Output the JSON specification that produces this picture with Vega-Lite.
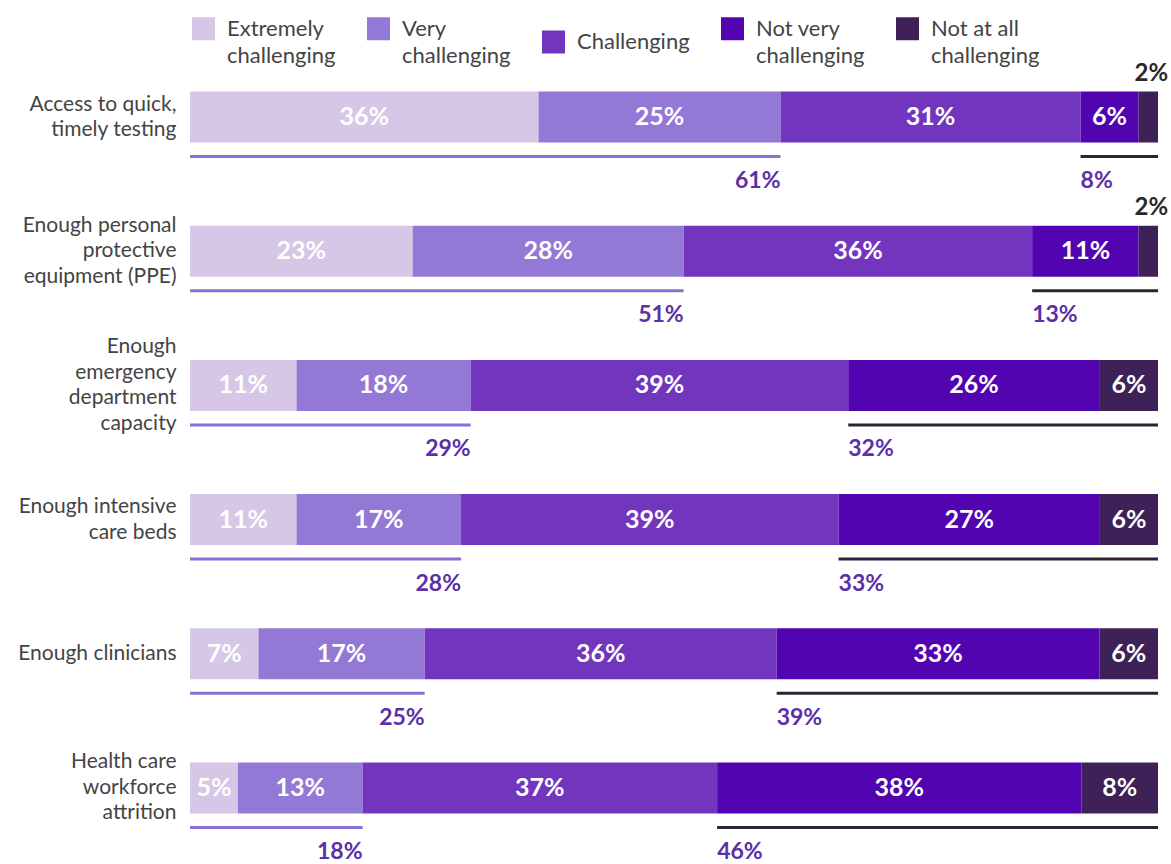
{
  "$schema": "https://vega.github.io/schema/vega-lite/v6.json",
  "width": 968,
  "height": 805,
  "autosize": {"type": "none"},
  "padding": {"left": 190, "top": 50, "right": 13, "bottom": 9},
  "background": "white",
  "config": {
    "view": {"stroke": null},
    "font": "Lato",
    "text": {"font": "Lato"},
    "style": {"guide-label": {"lineHeight": 27}}
  },
  "datasets": {
    "seg": [
      {"c": "Access to quick,\ntimely testing", "s": "Extremely challenging", "r": 1, "v": 0.36, "g": "low", "t": 0.61},
      {"c": "Access to quick,\ntimely testing", "s": "Very challenging", "r": 2, "v": 0.25, "g": "low", "t": 0.61},
      {"c": "Access to quick,\ntimely testing", "s": "Challenging", "r": 3, "v": 0.31, "g": "mid", "t": null},
      {"c": "Access to quick,\ntimely testing", "s": "Not very challenging", "r": 4, "v": 0.06, "g": "high", "t": 0.08},
      {"c": "Access to quick,\ntimely testing", "s": "Not at all challenging", "r": 5, "v": 0.02, "g": "high", "t": 0.08},
      {"c": "Enough personal\nprotective\nequipment (PPE)", "s": "Extremely challenging", "r": 1, "v": 0.23, "g": "low", "t": 0.51},
      {"c": "Enough personal\nprotective\nequipment (PPE)", "s": "Very challenging", "r": 2, "v": 0.28, "g": "low", "t": 0.51},
      {"c": "Enough personal\nprotective\nequipment (PPE)", "s": "Challenging", "r": 3, "v": 0.36, "g": "mid", "t": null},
      {"c": "Enough personal\nprotective\nequipment (PPE)", "s": "Not very challenging", "r": 4, "v": 0.11, "g": "high", "t": 0.13},
      {"c": "Enough personal\nprotective\nequipment (PPE)", "s": "Not at all challenging", "r": 5, "v": 0.02, "g": "high", "t": 0.13},
      {"c": "Enough\nemergency\ndepartment\ncapacity", "s": "Extremely challenging", "r": 1, "v": 0.11, "g": "low", "t": 0.29},
      {"c": "Enough\nemergency\ndepartment\ncapacity", "s": "Very challenging", "r": 2, "v": 0.18, "g": "low", "t": 0.29},
      {"c": "Enough\nemergency\ndepartment\ncapacity", "s": "Challenging", "r": 3, "v": 0.39, "g": "mid", "t": null},
      {"c": "Enough\nemergency\ndepartment\ncapacity", "s": "Not very challenging", "r": 4, "v": 0.26, "g": "high", "t": 0.32},
      {"c": "Enough\nemergency\ndepartment\ncapacity", "s": "Not at all challenging", "r": 5, "v": 0.06, "g": "high", "t": 0.32},
      {"c": "Enough intensive\ncare beds", "s": "Extremely challenging", "r": 1, "v": 0.11, "g": "low", "t": 0.28},
      {"c": "Enough intensive\ncare beds", "s": "Very challenging", "r": 2, "v": 0.17, "g": "low", "t": 0.28},
      {"c": "Enough intensive\ncare beds", "s": "Challenging", "r": 3, "v": 0.39, "g": "mid", "t": null},
      {"c": "Enough intensive\ncare beds", "s": "Not very challenging", "r": 4, "v": 0.27, "g": "high", "t": 0.33},
      {"c": "Enough intensive\ncare beds", "s": "Not at all challenging", "r": 5, "v": 0.06, "g": "high", "t": 0.33},
      {"c": "Enough clinicians", "s": "Extremely challenging", "r": 1, "v": 0.07, "g": "low", "t": 0.25},
      {"c": "Enough clinicians", "s": "Very challenging", "r": 2, "v": 0.17, "g": "low", "t": 0.25},
      {"c": "Enough clinicians", "s": "Challenging", "r": 3, "v": 0.36, "g": "mid", "t": null},
      {"c": "Enough clinicians", "s": "Not very challenging", "r": 4, "v": 0.33, "g": "high", "t": 0.39},
      {"c": "Enough clinicians", "s": "Not at all challenging", "r": 5, "v": 0.06, "g": "high", "t": 0.39},
      {"c": "Health care\nworkforce\nattrition", "s": "Extremely challenging", "r": 1, "v": 0.05, "g": "low", "t": 0.18},
      {"c": "Health care\nworkforce\nattrition", "s": "Very challenging", "r": 2, "v": 0.13, "g": "low", "t": 0.18},
      {"c": "Health care\nworkforce\nattrition", "s": "Challenging", "r": 3, "v": 0.37, "g": "mid", "t": null},
      {"c": "Health care\nworkforce\nattrition", "s": "Not very challenging", "r": 4, "v": 0.38, "g": "high", "t": 0.46},
      {"c": "Health care\nworkforce\nattrition", "s": "Not at all challenging", "r": 5, "v": 0.08, "g": "high", "t": 0.46}
    ]
  },
  "data": {"name": "seg"},
  "encoding": {
    "y": {
      "field": "c",
      "type": "nominal",
      "title": null,
      "sort": [
        "Access to quick,\ntimely testing",
        "Enough personal\nprotective\nequipment (PPE)",
        "Enough\nemergency\ndepartment\ncapacity",
        "Enough intensive\ncare beds",
        "Enough clinicians",
        "Health care\nworkforce\nattrition"
      ],
      "scale": {"paddingInner": 0, "paddingOuter": 0},
      "axis": {
        "domain": false,
        "ticks": false,
        "labelPadding": 14,
        "labelFont": "Lato",
        "labelFontSize": 21,
        "labelColor": "#444444",
        "labelLineHeight": 25.5,
        "labelLimit": 300,
        "labelOffset": {
          "condition": [
            {"test": "length(split(datum.value, '\\n')) == 4", "value": -38},
            {"test": "length(split(datum.value, '\\n')) == 3", "value": -25.5},
            {"test": "length(split(datum.value, '\\n')) == 2", "value": -12.5}
          ],
          "value": 0
        },
        "labelExpr": "split(datum.label, '\\n')"
      }
    }
  },
  "layer": [
    {
      "mark": {"type": "bar", "height": {"band": 0.38}},
      "encoding": {
        "x": {"field": "v", "type": "quantitative", "stack": "normalize", "scale": {"domain": [0, 1], "nice": false}, "axis": null},
        "color": {
          "field": "s",
          "type": "nominal",
          "scale": {
            "domain": ["Extremely challenging", "Very challenging", "Challenging", "Not very challenging", "Not at all challenging"],
            "range": ["#d6c7e6", "#9379d5", "#7236be", "#5104b0", "#3e2156"]
          },
          "legend": {
            "orient": "none",
            "legendX": 2,
            "legendY": -33,
            "direction": "horizontal",
            "columns": 5,
            "title": null,
            "padding": 0,
            "symbolType": "square",
            "symbolSize": 529,
            "symbolStrokeWidth": 0,
            "labelFont": "Lato",
            "labelFontSize": 22,
            "labelColor": "#444444",
            "labelOffset": 12,
            "labelLimit": 300,
            "columnPadding": 31,
            "labelExpr": "split(replace(datum.label, ' challenging', '\\nchallenging'), '\\n')"
          }
        },
        "order": {"field": "r", "type": "quantitative"}
      }
    },
    {
      "transform": [
        {"stack": "v", "groupby": ["c"], "sort": [{"field": "r", "order": "ascending"}], "offset": "normalize", "as": ["x0", "x1"]},
        {"filter": "datum.v > 0.03"},
        {"fold": ["x0", "x1"], "as": ["k", "p"]},
        {"aggregate": [{"op": "mean", "field": "p", "as": "mid"}], "groupby": ["c", "r", "v"]}
      ],
      "mark": {"type": "text", "color": "white", "fontSize": 25, "fontWeight": "bold", "align": "center", "baseline": "middle"},
      "encoding": {
        "x": {"field": "mid", "type": "quantitative"},
        "text": {"field": "v", "type": "quantitative", "format": ".0%"}
      }
    },
    {
      "transform": [
        {"stack": "v", "groupby": ["c"], "sort": [{"field": "r", "order": "ascending"}], "offset": "normalize", "as": ["x0", "x1"]},
        {"filter": "datum.v <= 0.03"},
        {"fold": ["x0", "x1"], "as": ["k", "p"]},
        {"aggregate": [{"op": "mean", "field": "p", "as": "mid"}], "groupby": ["c", "r", "v"]}
      ],
      "mark": {"type": "text", "color": "#2a2a2a", "fontSize": 24, "fontWeight": "bold", "align": "center", "baseline": "middle", "dx": 3, "yOffset": -43},
      "encoding": {
        "x": {"field": "mid", "type": "quantitative"},
        "text": {"field": "v", "type": "quantitative", "format": ".0%"}
      }
    },
    {
      "transform": [
        {"stack": "v", "groupby": ["c"], "sort": [{"field": "r", "order": "ascending"}], "offset": "normalize", "as": ["x0", "x1"]},
        {"filter": "datum.g != 'mid'"},
        {"aggregate": [{"op": "min", "field": "x0", "as": "lo"}, {"op": "max", "field": "x1", "as": "hi"}], "groupby": ["c", "g", "t"]}
      ],
      "layer": [
        {
          "mark": {"type": "rule", "strokeWidth": 3, "yOffset": 39.5},
          "encoding": {
            "x": {"field": "lo", "type": "quantitative"},
            "x2": {"field": "hi"},
            "stroke": {"condition": {"test": "datum.g == 'low'", "value": "#8a6fd6"}, "value": "#2c2335"}
          }
        },
        {
          "transform": [{"filter": "datum.g == 'low'"}],
          "mark": {"type": "text", "color": "#5b2fa6", "fontSize": 23, "fontWeight": "bold", "align": "right", "baseline": "middle", "yOffset": 64},
          "encoding": {
            "x": {"field": "hi", "type": "quantitative"},
            "text": {"field": "t", "type": "quantitative", "format": ".0%"}
          }
        },
        {
          "transform": [{"filter": "datum.g == 'high'"}],
          "mark": {"type": "text", "color": "#5b2fa6", "fontSize": 23, "fontWeight": "bold", "align": "left", "baseline": "middle", "yOffset": 64},
          "encoding": {
            "x": {"field": "lo", "type": "quantitative"},
            "text": {"field": "t", "type": "quantitative", "format": ".0%"}
          }
        }
      ]
    }
  ]
}
